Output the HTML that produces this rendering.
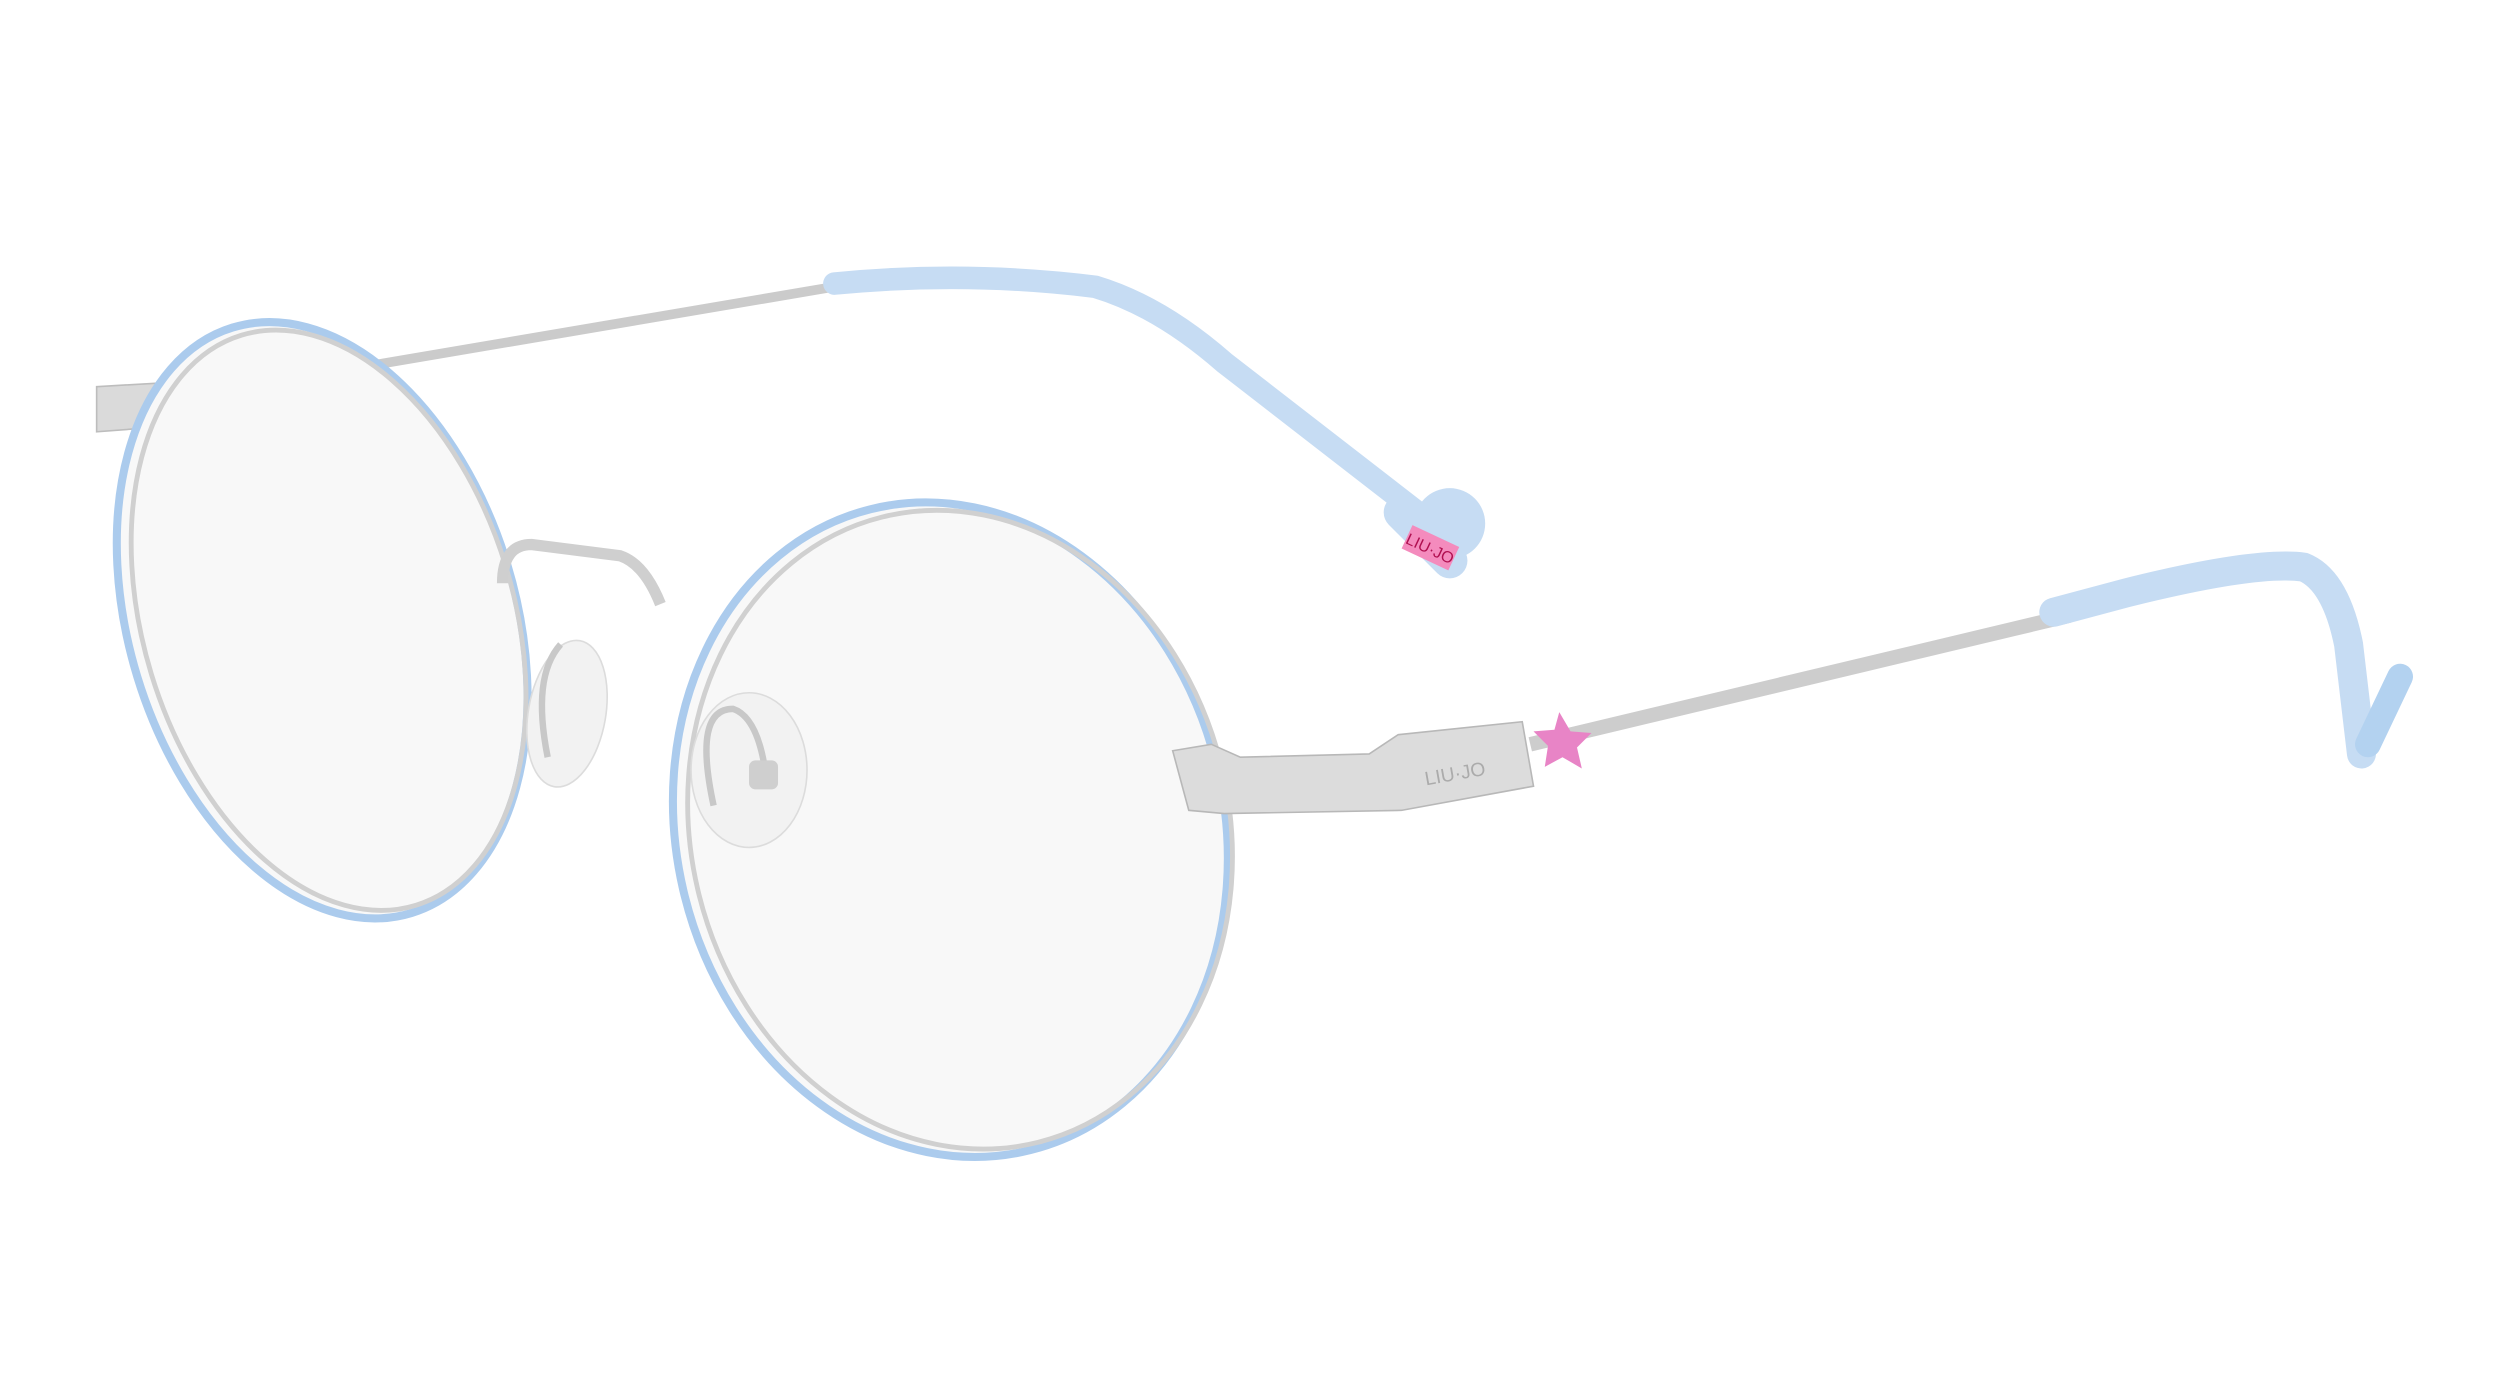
<!DOCTYPE html>
<html><head><style>html,body{margin:0;padding:0;background:#fff;}svg{display:block}</style></head>
<body>
<svg width="2500" height="1400" viewBox="0 0 1552 869" preserveAspectRatio="none" xmlns="http://www.w3.org/2000/svg">
<rect width="1552" height="869" fill="#ffffff"/>
<!-- far temple -->
<path d="M62,244 L200,232 L518,178" stroke="#cbcbcb" stroke-width="6" fill="none"/>
<path d="M60,240 L130,236 L140,262 L60,268 Z" fill="#dadada" stroke="#bdbdbd"/>
<path d="M518,176 Q600,168 680,178 Q720,190 760,225 L880,318" stroke="#c6dcf3" stroke-width="14" fill="none" stroke-linecap="round"/>
<circle cx="900" cy="325" r="22" fill="#c6dcf3"/>
<path d="M870,318 L900,348" stroke="#c6dcf3" stroke-width="22" stroke-linecap="round"/>
<g transform="translate(888,340) rotate(25)">
<rect x="-16" y="-8" width="32" height="16" fill="#f48bbd"/>
<text x="0" y="4" text-anchor="middle" font-family="Liberation Sans,sans-serif" font-size="10" fill="#b01050">LIU·JO</text>
</g>
<!-- left lens -->
<ellipse cx="200" cy="385" rx="120" ry="190" transform="rotate(-17 200 385)" fill="#f8f8f8" stroke="#abcbed" stroke-width="5"/>
<ellipse cx="204" cy="385" rx="115" ry="185" transform="rotate(-17 204 385)" fill="none" stroke="#d0d0d0" stroke-width="3"/>
<!-- right lens -->
<ellipse cx="590" cy="515" rx="170" ry="205" transform="rotate(-14 590 515)" fill="#f8f8f8" stroke="#abcbed" stroke-width="5"/>
<ellipse cx="596" cy="515" rx="167" ry="200" transform="rotate(-14 596 515)" fill="none" stroke="#d0d0d0" stroke-width="3"/>
<!-- bridge -->
<path d="M312,362 Q312,338 330,338 L385,345 Q400,350 410,375" stroke="#cfcfcf" stroke-width="7" fill="none"/>
<!-- nose pads -->
<ellipse cx="352" cy="443" rx="24" ry="46" transform="rotate(10 352 443)" fill="#f2f2f2" stroke="#dcdcdc"/>
<path d="M340,470 Q330,420 348,400" stroke="#c8c8c8" stroke-width="4" fill="none"/>
<ellipse cx="465" cy="478" rx="36" ry="48" fill="#f2f2f2" stroke="#dcdcdc"/>
<path d="M443,500 Q430,440 455,440 Q470,445 475,478" stroke="#c8c8c8" stroke-width="4" fill="none"/>
<rect x="465" y="472" width="18" height="18" rx="4" fill="#cfcfcf"/>
<!-- right hinge + temple -->
<path d="M950,462 L1285,382" stroke="#cdcdcd" stroke-width="9" fill="none"/>
<path d="M728,466 L752,462 L770,470 L850,468 L868,456 L945,448 L952,488 L870,503 L760,505 L738,503 Z" fill="#dcdcdc" stroke="#b8b8b8"/>
<text x="885" y="484" font-family="Liberation Sans,sans-serif" font-size="12" fill="#ababab" transform="rotate(-10 905 484)">LIU·JO</text>
<polygon points="968,442 975,454 988,455 979,464 982,477 970,470 959,476 961,463 952,454 965,453" fill="#e884c6"/>
<path d="M1275,380 L1320,368 Q1400,348 1430,352 Q1450,360 1458,400 L1466,468" stroke="#c6dcf3" stroke-width="18" fill="none" stroke-linecap="round"/>
<path d="M1470,462 L1490,420" stroke="#b3d2f0" stroke-width="16" stroke-linecap="round"/>
</svg>
</body></html>
